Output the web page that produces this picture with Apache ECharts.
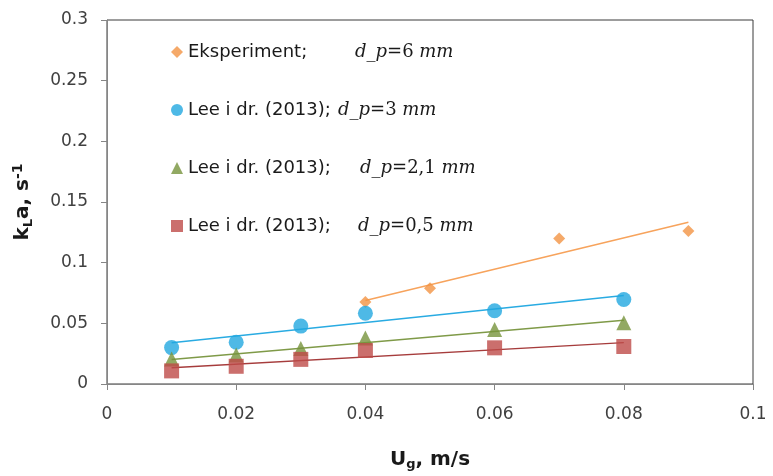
<!DOCTYPE html>
<html><head><meta charset="utf-8">
<script src="https://cdn.jsdelivr.net/npm/echarts@6/dist/echarts.min.js"></script>
<style>html,body{margin:0;padding:0;background:#fff;overflow:hidden}#c{width:773px;height:476px}</style>
</head><body><div id="c"></div>
<script>
const seriesNames = ['Eksperiment;', 'Lee i dr. (2013); 3', 'Lee i dr. (2013); 2,1', 'Lee i dr. (2013); 0,5'];
const diameters = ['6', '3', '2,1', '0,5'];
const xExp = [0.04, 0.05, 0.07, 0.09];
const yExp = [0.0675, 0.079, 0.120, 0.126];
const xLee = [0.01, 0.02, 0.03, 0.04, 0.06, 0.08];
const yLee3 = [0.030, 0.0344, 0.0477, 0.0583, 0.0604, 0.0697];
const yLee21 = [0.0207, 0.0238, 0.0293, 0.038, 0.045, 0.0504];
const yLee05 = [0.0108, 0.0146, 0.0203, 0.0276, 0.0298, 0.0309];
const trendExpX = [0.04, 0.09], trendExpY = [0.0688, 0.1333];
const trendLeeX = [0.01, 0.08];
const trend3Y = [0.0339, 0.0729];
const trend21Y = [0.0201, 0.0526];
const trend05Y = [0.0133, 0.0341];
const xTicks = [0, 0.02, 0.04, 0.06, 0.08, 0.1];
const yTicks = [0, 0.05, 0.1, 0.15, 0.2, 0.25, 0.3];

const zip = (xs, ys) => xs.map((x, i) => [x, ys[i]]);
const colors = ['#F39443', '#22A7E0', '#77933C', '#BE4B48'];
const lineColors = ['#F7A35C', '#29ABE2', '#7F9A48', '#A63C3C'];
const symbols = ['diamond', 'circle', 'triangle', 'rect'];
const sizes = [12, 15, 15, 15];
const ptData = [zip(xExp, yExp), zip(xLee, yLee3), zip(xLee, yLee21), zip(xLee, yLee05)];
const trData = [zip(trendExpX, trendExpY), zip(trendLeeX, trend3Y), zip(trendLeeX, trend21Y), zip(trendLeeX, trend05Y)];
const labelWidths = [167, 150, 172, 170];

const series = [];
for (let i = 0; i < 4; i++) {
  series.push({
    type: 'line', data: trData[i], symbol: 'none', silent: true, z: 2,
    lineStyle: { color: lineColors[i], width: 1.5 }
  });
}
for (let i = 0; i < 4; i++) {
  series.push({
    name: seriesNames[i], type: 'scatter', data: ptData[i], z: 3,
    symbol: symbols[i], symbolSize: sizes[i],
    itemStyle: { color: colors[i] }
  });
}

const dom = document.getElementById('c');
const chart = echarts.init(dom, null, { renderer: 'canvas', width: 773, height: 476 });
const SANS = 'DejaVu Sans';
const richLeg = { fontFamily: SANS, fontSize: 18, color: '#1a1a1a' };
chart.setOption({
  animation: false,
  grid: { left: 107, right: 20, top: 20, bottom: 87, show: true, borderColor: '#3a3a3a', borderWidth: 1, backgroundColor: 'transparent' },
  legend: {
    orient: 'vertical', left: 166, top: 38, itemGap: 40,
    itemWidth: 12, itemHeight: 12,
    data: seriesNames.map((n, i) => ({ name: n, icon: symbols[i] })),
    formatter: function (name) {
      const i = seriesNames.indexOf(name);
      const base = i === 0 ? 'Eksperiment;' : 'Lee i dr. (2013);';
      return '{a' + i + '|' + base + '}{m|d_p}{n|=' + diameters[i] + '}{m| mm}';
    },
    textStyle: {
      rich: {
        a0: Object.assign({ width: labelWidths[0] }, richLeg),
        a1: Object.assign({ width: labelWidths[1] }, richLeg),
        a2: Object.assign({ width: labelWidths[2] }, richLeg),
        a3: Object.assign({ width: labelWidths[3] }, richLeg),
        m: { fontFamily: 'DejaVu Serif', fontStyle: 'italic', fontSize: 18, color: '#1a1a1a' },
        n: { fontFamily: 'DejaVu Serif', fontSize: 18, color: '#1a1a1a' }
      }
    }
  },
  xAxis: {
    type: 'value', min: 0, max: 0.1, interval: 0.02,
    name: '{u|U}{s|g}{u|, m/s}', nameLocation: 'middle', nameGap: 64,
    nameTextStyle: { rich: {
      u: { fontFamily: SANS, fontWeight: 'bold', fontSize: 20, color: '#1a1a1a' },
      s: { fontFamily: SANS, fontWeight: 'bold', fontSize: 13, color: '#1a1a1a', verticalAlign: 'bottom', padding: [10, 0, 0, 0] }
    } },
    axisLine: { show: true, lineStyle: { color: '#868686' } },
    axisTick: { show: true, inside: false, length: 6, lineStyle: { color: '#868686' } },
    splitLine: { show: false },
    axisLabel: { margin: 22, fontFamily: SANS, fontSize: 17, color: '#404040',
      formatter: v => { const t = xTicks.find(x => Math.abs(x - v) < 1e-9); return t === undefined ? '' : String(t); } }
  },
  yAxis: {
    type: 'value', min: 0, max: 0.3, interval: 0.05,
    name: '{u|k}{s|L}{u|a, s}{p|-1}', nameLocation: 'middle', nameGap: 72, nameRotate: 90,
    nameTextStyle: { rich: {
      u: { fontFamily: SANS, fontWeight: 'bold', fontSize: 20, color: '#1a1a1a' },
      s: { fontFamily: SANS, fontWeight: 'bold', fontSize: 13, color: '#1a1a1a', verticalAlign: 'bottom', padding: [10, 0, 0, 0] },
      p: { fontFamily: SANS, fontWeight: 'bold', fontSize: 14, color: '#1a1a1a', verticalAlign: 'top', padding: [0, 0, 10, 0] }
    } },
    axisLine: { show: true, lineStyle: { color: '#868686' } },
    axisTick: { show: true, inside: false, length: 6, lineStyle: { color: '#868686' } },
    splitLine: { show: false },
    axisLabel: { margin: 19, fontFamily: SANS, fontSize: 17, color: '#404040',
      formatter: v => { const t = yTicks.find(y => Math.abs(y - v) < 1e-9); return t === undefined ? '' : String(t); } }
  },
  series: series
});
</script></body></html>
